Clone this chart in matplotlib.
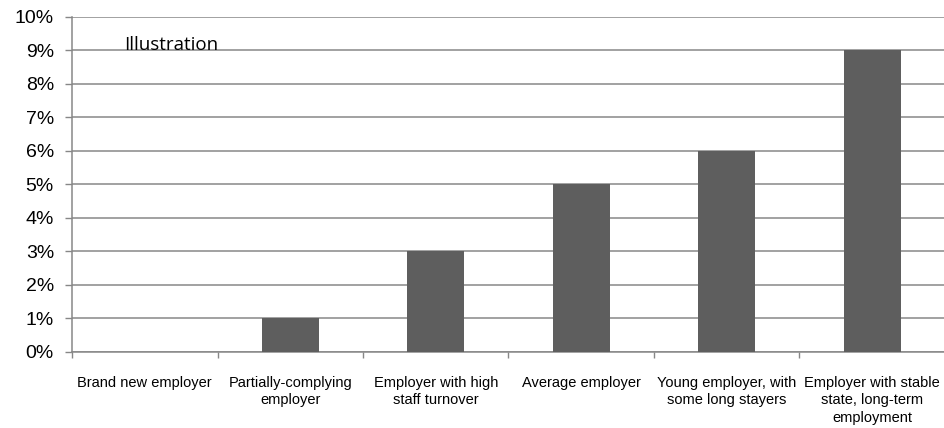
import numpy as np
import matplotlib.pyplot as plt
from matplotlib.ticker import FuncFormatter, FixedLocator

# --------------------- DATA
categories = [
    "Brand new employer",
    "Partially-complying\nemployer",
    "Employer with high\nstaff turnover",
    "Average employer",
    "Young employer, with\nsome long stayers",
    "Employer with stable\nstate, long-term\nemployment",
]
rates = [0, 1, 3, 5, 6, 9]  # percent

grid_col = "#878787"
bar_col = "#5e5e5e"

fig = plt.figure(figsize=(9.44, 4.28), dpi=100)
ax = fig.add_axes([0.0763, 0.1776, 0.9247, 0.7827])

x = np.arange(len(categories))
ax.bar(x, rates, width=0.39, color=bar_col, zorder=3)

ax.set_xlim(-0.5, len(categories) - 0.5)
ax.set_ylim(0, 10)
ax.set_yticks(np.arange(0, 11, 1))
ax.yaxis.set_major_formatter(FuncFormatter(lambda v, p: f"{v:.0f}%"))
ax.grid(axis="y", color=grid_col, linewidth=1.1, zorder=0)

# category labels on the centres, tick marks on the boundaries
ax.set_xticks(x)
ax.set_xticklabels(categories, fontsize=10.5, family="Liberation Sans",
                   linespacing=1.35)
ax.tick_params(axis="x", which="major", length=0, pad=17)
ax.xaxis.set_minor_locator(FixedLocator(np.arange(-0.5, len(categories), 1)))
ax.tick_params(axis="x", which="minor", length=4, width=1, color=grid_col)
ax.tick_params(axis="y", length=5, width=1, color=grid_col, pad=8,
               labelsize=14)
for lbl in ax.get_yticklabels():
    lbl.set_family("Liberation Sans")

for side in ["top", "right"]:
    ax.spines[side].set_visible(False)
for side in ["left", "bottom"]:
    ax.spines[side].set_color(grid_col)
    ax.spines[side].set_linewidth(1.1)

ax.text(0.06, 9, "Illustration", transform=ax.get_yaxis_transform(),
        fontsize=13.5, family="Open Sans", va="baseline", ha="left", zorder=4)

fig.savefig("out.png", dpi=100)
